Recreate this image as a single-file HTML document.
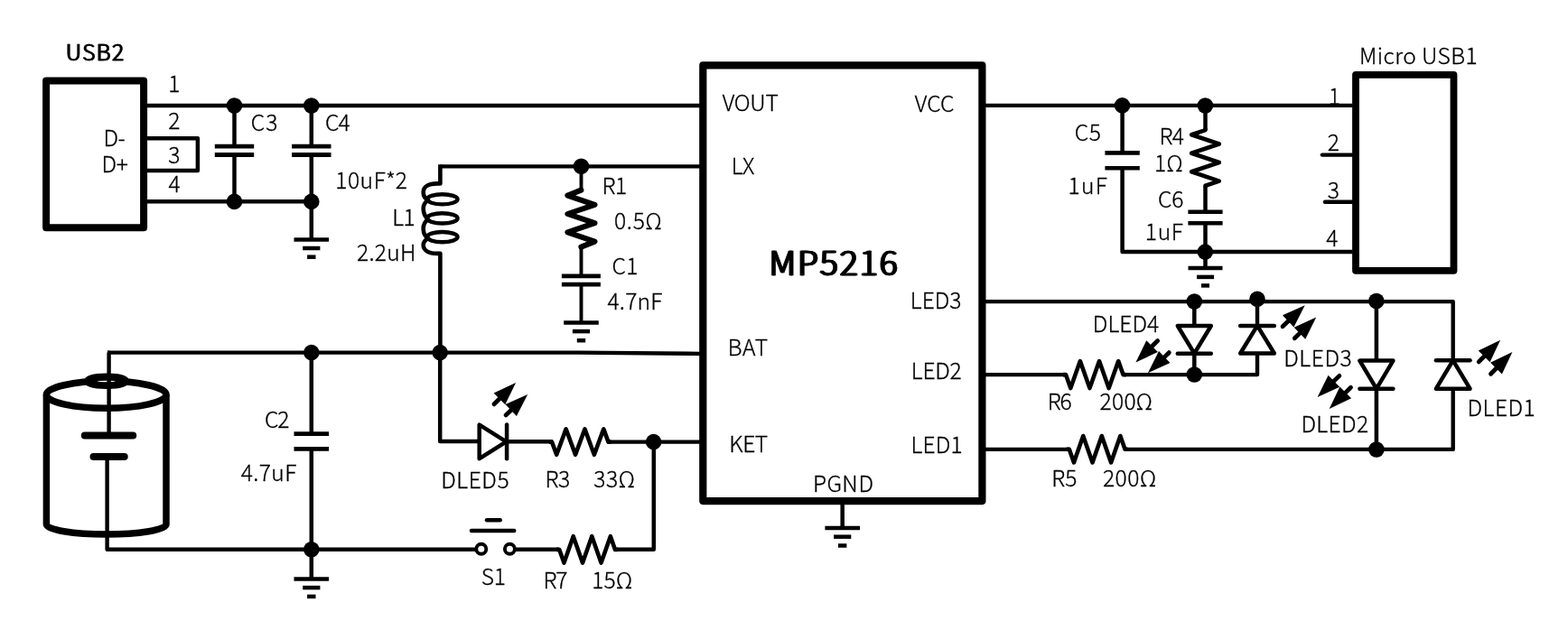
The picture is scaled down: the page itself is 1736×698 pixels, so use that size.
<!DOCTYPE html>
<html lang="en">
<head>
<meta charset="utf-8">
<title>MP5216 typical application circuit</title>
<style>
html,body{margin:0;padding:0;background:#fff;}
body{width:1736px;height:698px;overflow:hidden;}
svg{display:block;will-change:transform;}
svg text{font-family:"Noto Sans CJK SC","Noto Sans CJK JP","Liberation Sans",sans-serif;fill:#000;}
</style>
</head>
<body>
<svg width="1736" height="698" viewBox="0 0 1736 698" stroke="#000" fill="none">
<defs>
<filter id="fb1" x="-5%" y="-20%" width="110%" height="140%"><feOffset in="SourceGraphic" dx="1" dy="0" result="a"/><feMerge><feMergeNode in="SourceGraphic"/><feMergeNode in="a"/></feMerge></filter>
<filter id="fb2" x="-5%" y="-20%" width="110%" height="140%"><feOffset in="SourceGraphic" dx="1" dy="0" result="a"/><feOffset in="SourceGraphic" dx="-1" dy="0" result="b"/><feMerge><feMergeNode in="a"/><feMergeNode in="SourceGraphic"/><feMergeNode in="b"/></feMerge></filter>
</defs>
<rect x="0" y="0" width="1736" height="698" fill="#fff" stroke="none"/>
<g id="usb2">
<rect x="51.1" y="89.6" width="108" height="162.6" stroke-width="8" stroke-linejoin="round" fill="none"/>
<line x1="163" y1="117" x2="775" y2="117" stroke-width="4.3"/>
<path d="M163 153.3 L218.9 153.3 L218.9 188.9 L163 188.9" stroke-width="4.5" stroke-linejoin="round" stroke-linecap="butt" fill="none"/>
<line x1="163" y1="223.3" x2="344.8" y2="223.3" stroke-width="4.5"/>
</g>
<g id="input-caps">
<line x1="259.5" y1="117" x2="259.5" y2="162.2" stroke-width="4.5"/>
<line x1="259.5" y1="171.5" x2="259.5" y2="223.3" stroke-width="4.5"/>
<line x1="237.8" y1="162.2" x2="281.2" y2="162.2" stroke-width="4.8"/>
<line x1="237.8" y1="171.5" x2="281.2" y2="171.5" stroke-width="4.8"/>
<circle cx="259.5" cy="117" r="8.8" fill="#000" stroke="none"/>
<circle cx="259.5" cy="223.4" r="8.8" fill="#000" stroke="none"/>
<line x1="344.8" y1="117" x2="344.8" y2="162.2" stroke-width="4.5"/>
<line x1="344.8" y1="171.5" x2="344.8" y2="223.3" stroke-width="4.5"/>
<line x1="323.1" y1="162.2" x2="366.5" y2="162.2" stroke-width="4.8"/>
<line x1="323.1" y1="171.5" x2="366.5" y2="171.5" stroke-width="4.8"/>
<circle cx="344.8" cy="117" r="8.8" fill="#000" stroke="none"/>
<circle cx="344.8" cy="223.4" r="8.8" fill="#000" stroke="none"/>
<line x1="344.8" y1="223.3" x2="344.8" y2="265.4" stroke-width="4.5"/>
<line x1="325.5" y1="265.4" x2="364.1" y2="265.4" stroke-width="4.5"/>
<line x1="335.2" y1="275" x2="354.4" y2="275" stroke-width="4.5"/>
<line x1="340.1" y1="284.7" x2="349.5" y2="284.7" stroke-width="4.5"/>
</g>
<g id="inductor">
<line x1="487.4" y1="184.3" x2="775" y2="184.3" stroke-width="4.3"/>
<path d="M487.4 182.15 L487.4 203.4 L484 203.4 C474 203.4 468.7 207 468.7 213 C468.7 217 470.5 220 474 221.5 C470.5 224 468.7 227 468.7 231 C468.7 236 470.5 240 474 243 C470.5 245.5 468.7 249 468.7 253 C468.7 258 470.5 262 474 264 C470.5 266 468.7 268.5 468.7 271.5 C468.7 277 474 280.9 484 280.9 L487.4 280.9 L487.4 390.6" stroke-width="4.6" stroke-linejoin="round" fill="none"/>
<ellipse cx="489.7" cy="220.8" rx="16.9" ry="5.6" stroke-width="4.4" fill="none"/>
<ellipse cx="489.7" cy="241.9" rx="16.9" ry="5.6" stroke-width="4.4" fill="none"/>
<ellipse cx="489.7" cy="262.6" rx="16.9" ry="5.6" stroke-width="4.4" fill="none"/>
</g>
<g id="snubber">
<line x1="643.5" y1="184.3" x2="643.5" y2="211" stroke-width="3.9"/>
<path d="M643.4 210.6 L628.4 216.6 L658.5 226.8 L628.4 237 L658.5 247.2 L628.4 257.4 L658.5 267.6 L643.4 273.6" stroke-width="6" stroke-linejoin="round" stroke-linecap="round" fill="none"/>
<line x1="643.5" y1="273" x2="643.5" y2="305.9" stroke-width="3.9"/>
<line x1="643.5" y1="315.2" x2="643.5" y2="357.4" stroke-width="3.9"/>
<line x1="621.9" y1="305.9" x2="664.9" y2="305.9" stroke-width="4.8"/>
<line x1="621.9" y1="315.2" x2="664.9" y2="315.2" stroke-width="4.8"/>
<line x1="624.2" y1="357.4" x2="662.8" y2="357.4" stroke-width="4.5"/>
<line x1="633.9" y1="367.1" x2="653.1" y2="367.1" stroke-width="4.5"/>
<line x1="638.8" y1="377.2" x2="648.2" y2="377.2" stroke-width="4.5"/>
<circle cx="643.5" cy="184.2" r="8.8" fill="#000" stroke="none"/>
</g>
<g id="ic">
<rect x="778.3" y="72.4" width="309.1" height="482.7" stroke-width="8.2" stroke-linejoin="round" fill="none"/>
<line x1="932.7" y1="558" x2="932.7" y2="584.9" stroke-width="4.5"/>
<line x1="913.4" y1="584.9" x2="952" y2="584.9" stroke-width="4.5"/>
<line x1="923.1" y1="594.7" x2="942.3" y2="594.7" stroke-width="4.5"/>
<line x1="928" y1="604.5" x2="937.4" y2="604.5" stroke-width="4.5"/>
</g>
<g id="battery">
<path d="M119.5 390.6 L640 390.6 L775 391.9" stroke-width="4.4" stroke-linejoin="round" stroke-linecap="butt" fill="none"/>
<path d="M51.4 437.6 L51.4 581 A66.3 11 0 0 0 184 581 L184 437.6" stroke-width="7.5" fill="none" stroke-linejoin="round"/>
<ellipse cx="117.7" cy="437.3" rx="66.3" ry="15" stroke-width="7.6" fill="none"/>
<ellipse cx="118.05" cy="422.2" rx="21" ry="4.75" stroke-width="7.9" fill="none"/>
<ellipse cx="117.8" cy="422.45" rx="10" ry="0.75" fill="#fff" stroke="none"/>
<path d="M119 390.6 L120.6 390.6 L120.6 482.4" stroke-width="4.4" stroke-linejoin="round" stroke-linecap="butt" fill="none"/>
<path d="M118.6 506 L118.6 608.8 L526 608.8" stroke-width="4.4" stroke-linejoin="round" stroke-linecap="butt" fill="none"/>
<line x1="93.8" y1="482.4" x2="147.2" y2="482.4" stroke-width="8" stroke-linecap="round"/>
<line x1="103.5" y1="506" x2="137.7" y2="506" stroke-width="8" stroke-linecap="round"/>
</g>
<g id="c2">
<line x1="344.8" y1="390.6" x2="344.8" y2="480.6" stroke-width="4.5"/>
<line x1="344.8" y1="497.4" x2="344.8" y2="641.4" stroke-width="4.5"/>
<line x1="325.5" y1="480.6" x2="364.1" y2="480.6" stroke-width="4.6"/>
<line x1="325.5" y1="497.4" x2="364.1" y2="497.4" stroke-width="4.6"/>
<circle cx="344.8" cy="390.6" r="8.8" fill="#000" stroke="none"/>
<circle cx="344.8" cy="608.8" r="8.8" fill="#000" stroke="none"/>
<line x1="325.5" y1="641.4" x2="364.1" y2="641.4" stroke-width="4.5"/>
<line x1="335.2" y1="651.1" x2="354.4" y2="651.1" stroke-width="4.5"/>
<line x1="340.1" y1="660.9" x2="349.5" y2="660.9" stroke-width="4.5"/>
<circle cx="487.2" cy="390.6" r="8.8" fill="#000" stroke="none"/>
</g>
<g id="dled5">
<path d="M487.2 390.6 L487.2 489.1 L531 489.1" stroke-width="4.5" stroke-linejoin="round" stroke-linecap="butt" fill="none"/>
<path d="M530.7 470.6 L530.7 508.2 L560.5 489.4 Z" fill="#fff" stroke-width="4.5" stroke-linejoin="round"/>
<line x1="561.1" y1="470.6" x2="561.1" y2="508.2" stroke-width="4.5" stroke-linecap="round"/>
<line x1="561" y1="489.3" x2="612" y2="489.3" stroke-width="4.5"/>
<line x1="547.01" y1="447.81" x2="555.1" y2="439.82" stroke-width="4.8" stroke-linecap="round"/>
<path d="M571.1 424 L559.29 448.33 L546.64 435.52 Z" fill="#000" stroke="none"/>
<line x1="560.04" y1="459.95" x2="567.89" y2="452.5" stroke-width="4.8" stroke-linecap="round"/>
<path d="M584.2 437 L571.91 461.09 L559.51 448.04 Z" fill="#000" stroke="none"/>
<path d="M608 489.6 L611 489.6 L616.21 503.8 L626.62 475.4 L637.04 503.8 L647.46 475.4 L657.87 503.8 L668.29 475.4 L673.5 489.6 L676.5 489.6" stroke-width="4.6" stroke-linejoin="round" stroke-linecap="butt" fill="none"/>
<line x1="675" y1="489.7" x2="775" y2="489.7" stroke-width="4.3"/>
<circle cx="723.6" cy="489.6" r="8.8" fill="#000" stroke="none"/>
</g>
<g id="switch">
<line x1="539" y1="576.2" x2="553.7" y2="576.2" stroke-width="4.5" stroke-linecap="round"/>
<line x1="522" y1="588" x2="569.2" y2="588" stroke-width="4.5" stroke-linecap="round"/>
<circle cx="532.8" cy="608.2" r="5.5" stroke-width="3.9" fill="#fff"/>
<circle cx="564.4" cy="608.2" r="5.5" stroke-width="3.9" fill="#fff"/>
<line x1="570.5" y1="608.8" x2="618" y2="608.8" stroke-width="4.5"/>
<path d="M616.3 608.9 L619.3 608.9 L624.44 623.6 L634.72 594.2 L645.01 623.6 L655.29 594.2 L665.57 623.6 L675.86 594.2 L681 608.9 L684 608.9" stroke-width="4.6" stroke-linejoin="round" stroke-linecap="butt" fill="none"/>
<path d="M683 608.8 L723.8 608.8 L723.8 489.6" stroke-width="4.5" stroke-linejoin="round" stroke-linecap="butt" fill="none"/>
</g>
<g id="micro-usb">
<line x1="1091" y1="116.9" x2="1497.5" y2="116.9" stroke-width="4.3"/>
<rect x="1501" y="82.8" width="108.5" height="217" stroke-width="7.8" stroke-linejoin="round" fill="none"/>
<line x1="1242.6" y1="116.6" x2="1242.6" y2="169.4" stroke-width="4.5"/>
<path d="M1242.6 186.2 L1242.6 279.1 L1497.5 279.1" stroke-width="4.5" stroke-linejoin="round" stroke-linecap="butt" fill="none"/>
<line x1="1223.4" y1="169.4" x2="1261.8" y2="169.4" stroke-width="4.6"/>
<line x1="1223.4" y1="186.2" x2="1261.8" y2="186.2" stroke-width="4.6"/>
<line x1="1334.5" y1="116.5" x2="1334.5" y2="144.3" stroke-width="4.5"/>
<path d="M1334.5 142.1 L1334.5 144.1 L1319.2 149.23 L1349.8 159.5 L1319.2 169.77 L1349.8 180.03 L1319.2 190.3 L1349.8 200.57 L1334.5 205.7 L1334.5 207.7" stroke-width="4.6" stroke-linejoin="round" stroke-linecap="butt" fill="none"/>
<line x1="1334.5" y1="207" x2="1334.5" y2="234.7" stroke-width="4.5"/>
<line x1="1334.5" y1="247.3" x2="1334.5" y2="297.1" stroke-width="4.5"/>
<line x1="1315.4" y1="234.7" x2="1353.6" y2="234.7" stroke-width="4.6"/>
<line x1="1315.4" y1="247.3" x2="1353.6" y2="247.3" stroke-width="4.6"/>
<line x1="1315.5" y1="297.1" x2="1353.5" y2="297.1" stroke-width="4.5"/>
<line x1="1325" y1="306.9" x2="1344" y2="306.9" stroke-width="4.5"/>
<line x1="1330" y1="316.4" x2="1339" y2="316.4" stroke-width="4.5"/>
<circle cx="1242.5" cy="116.9" r="8.8" fill="#000" stroke="none"/>
<circle cx="1334.4" cy="117" r="8.8" fill="#000" stroke="none"/>
<circle cx="1334.3" cy="279.1" r="8.8" fill="#000" stroke="none"/>
<line x1="1463.9" y1="171.6" x2="1497.5" y2="171.6" stroke-width="4.4" stroke-linecap="round"/>
<line x1="1467" y1="223.7" x2="1497.5" y2="223.7" stroke-width="4.4" stroke-linecap="round"/>
</g>
<g id="leds">
<path d="M1091 334.1 L1608.7 334.1 L1608.7 497.9 L1247 497.9" stroke-width="4.4" stroke-linejoin="round" stroke-linecap="butt" fill="none"/>
<line x1="1091" y1="415.1" x2="1181" y2="415.1" stroke-width="4.3"/>
<path d="M1177 415.1 L1180 415.1 L1185.29 430.1 L1195.88 400.1 L1206.46 430.1 L1217.04 400.1 L1227.62 430.1 L1238.21 400.1 L1243.5 415.1 L1246.5 415.1" stroke-width="4.6" stroke-linejoin="round" stroke-linecap="butt" fill="none"/>
<path d="M1245 415.1 L1392 415.1 L1392 331" stroke-width="4.4" stroke-linejoin="round" stroke-linecap="butt" fill="none"/>
<line x1="1091" y1="497.9" x2="1185" y2="497.9" stroke-width="4.3"/>
<path d="M1180.8 497.7 L1183.8 497.7 L1188.94 512.4 L1199.22 483 L1209.51 512.4 L1219.79 483 L1230.07 512.4 L1240.36 483 L1245.5 497.7 L1248.5 497.7" stroke-width="4.6" stroke-linejoin="round" stroke-linecap="butt" fill="none"/>
<line x1="1322.3" y1="334" x2="1322.3" y2="415" stroke-width="4.5"/>
<line x1="1523.9" y1="333.3" x2="1523.9" y2="497.9" stroke-width="4.5"/>
<path d="M1303.8 361 L1340.8 361 L1322.3 391.7 Z" fill="#fff" stroke-width="4.5" stroke-linejoin="round"/>
<line x1="1303.8" y1="391.7" x2="1340.8" y2="391.7" stroke-width="4.5" stroke-linecap="round"/>
<path d="M1373.2 391.5 L1410.8 391.5 L1392 360.9 Z" fill="#fff" stroke-width="4.5" stroke-linejoin="round"/>
<line x1="1373.2" y1="360.9" x2="1410.8" y2="360.9" stroke-width="4.5" stroke-linecap="round"/>
<path d="M1505.4 399.6 L1542.4 399.6 L1523.9 430.7 Z" fill="#fff" stroke-width="4.5" stroke-linejoin="round"/>
<line x1="1505.4" y1="430.7" x2="1542.4" y2="430.7" stroke-width="4.5" stroke-linecap="round"/>
<path d="M1589.9 430.7 L1627.5 430.7 L1608.7 399.3 Z" fill="#fff" stroke-width="4.5" stroke-linejoin="round"/>
<line x1="1589.9" y1="399.3" x2="1627.5" y2="399.3" stroke-width="4.5" stroke-linecap="round"/>
<circle cx="1322.3" cy="334" r="8.8" fill="#000" stroke="none"/>
<circle cx="1392" cy="331.4" r="8.8" fill="#000" stroke="none"/>
<circle cx="1523.8" cy="333.5" r="8.8" fill="#000" stroke="none"/>
<circle cx="1322.3" cy="415" r="8.8" fill="#000" stroke="none"/>
<circle cx="1523.9" cy="498" r="8.8" fill="#000" stroke="none"/>
<line x1="1281.69" y1="377.58" x2="1273.43" y2="385.71" stroke-width="4.8" stroke-linecap="round"/>
<path d="M1257.4 401.5 L1269.26 377.2 L1281.88 390.02 Z" fill="#000" stroke="none"/>
<line x1="1294.28" y1="390.67" x2="1287.07" y2="397.65" stroke-width="4.8" stroke-linecap="round"/>
<path d="M1270.9 413.3 L1282.96 389.1 L1295.48 402.03 Z" fill="#000" stroke="none"/>
<line x1="1420.04" y1="361.75" x2="1428.39" y2="353.8" stroke-width="4.8" stroke-linecap="round"/>
<path d="M1444.7 338.3 L1432.42 362.39 L1420.02 349.35 Z" fill="#000" stroke="none"/>
<line x1="1433.32" y1="374.72" x2="1441.1" y2="367.12" stroke-width="4.8" stroke-linecap="round"/>
<path d="M1457.2 351.4 L1445.24 375.66 L1432.67 362.78 Z" fill="#000" stroke="none"/>
<line x1="1482.88" y1="416.37" x2="1474.73" y2="424.31" stroke-width="4.8" stroke-linecap="round"/>
<path d="M1458.6 440 L1470.6 415.77 L1483.15 428.67 Z" fill="#000" stroke="none"/>
<line x1="1495.5" y1="429.2" x2="1487.61" y2="437.09" stroke-width="4.8" stroke-linecap="round"/>
<path d="M1471.7 453 L1483.37 428.6 L1496.1 441.33 Z" fill="#000" stroke="none"/>
<line x1="1637.19" y1="400.89" x2="1645.28" y2="392.7" stroke-width="4.8" stroke-linecap="round"/>
<path d="M1661.1 376.7 L1649.58 401.16 L1636.77 388.51 Z" fill="#000" stroke="none"/>
<line x1="1650.49" y1="414.19" x2="1658.58" y2="406" stroke-width="4.8" stroke-linecap="round"/>
<path d="M1674.4 390 L1662.88 414.46 L1650.07 401.81 Z" fill="#000" stroke="none"/>
</g>
<g id="labels">
<text x="72.34" y="67.1" font-size="24.6" font-weight="300" letter-spacing="1.32" stroke-width="0.5" filter="url(#fb1)">USB2</text>
<text x="186.13" y="102.3" font-size="24.6" font-weight="300" stroke-width="0.3">1</text>
<text x="186.18" y="142.9" font-size="24.6" font-weight="300" stroke-width="0.3">2</text>
<text x="186.18" y="180.9" font-size="24.6" font-weight="300" stroke-width="0.3">3</text>
<text x="186.57" y="212.7" font-size="24.6" font-weight="300" stroke-width="0.3">4</text>
<text x="114.44" y="161.8" font-size="24.6" font-weight="300" letter-spacing="-0.53" stroke-width="0.3">D-</text>
<text x="112.44" y="191.4" font-size="24.6" font-weight="300" letter-spacing="-0.22" stroke-width="0.3">D+</text>
<text x="277.75" y="144.6" font-size="24.6" font-weight="300" letter-spacing="1.01" stroke-width="0.3">C3</text>
<text x="360" y="144.6" font-size="24.6" font-weight="300" letter-spacing="-1.01" stroke-width="0.3">C4</text>
<text x="371.33" y="209" dx="0 0 0 0.4 -0.34 -0.34" font-size="24.6" font-weight="300" letter-spacing="0.4" stroke-width="0.3">10uF*2</text>
<text x="434.34" y="249.9" font-size="24.6" font-weight="300" letter-spacing="-0.57" stroke-width="0.3">L1</text>
<text x="394.98" y="289.2" font-size="24.6" font-weight="300" letter-spacing="0.3" stroke-width="0.3">2.2uH</text>
<text x="666.54" y="214.6" font-size="24.6" font-weight="300" letter-spacing="-0.48" stroke-width="0.3">R1</text>
<text x="680" y="253.6" font-size="24.6" font-weight="300" letter-spacing="0.69" stroke-width="0.3">0.5Ω</text>
<text x="677.4" y="304" font-size="24.6" font-weight="300" letter-spacing="0.5" stroke-width="0.3">C1</text>
<text x="672.57" y="342.8" font-size="24.6" font-weight="300" letter-spacing="0.14" stroke-width="0.3">4.7nF</text>
<text x="799.65" y="123" font-size="24.6" font-weight="300" letter-spacing="-0.23" stroke-width="0.3">VOUT</text>
<text x="1012.85" y="123.8" font-size="24.6" font-weight="300" letter-spacing="0.09" stroke-width="0.3">VCC</text>
<text x="809.64" y="192.6" font-size="24.6" font-weight="300" letter-spacing="-0.5" stroke-width="0.3">LX</text>
<text x="851.53" y="305" font-size="37.6" font-weight="300" letter-spacing="1.87" stroke-width="0.7" filter="url(#fb2)">MP5216</text>
<text x="1007.84" y="341.6" font-size="24.6" font-weight="300" letter-spacing="0.01" stroke-width="0.3">LED3</text>
<text x="805.84" y="393.5" font-size="24.6" font-weight="300" letter-spacing="0.48" stroke-width="0.3">BAT</text>
<text x="1008.74" y="420.3" font-size="24.6" font-weight="300" letter-spacing="-0.19" stroke-width="0.3">LED2</text>
<text x="807.24" y="501" font-size="24.6" font-weight="300" letter-spacing="-0.43" stroke-width="0.3">KET</text>
<text x="1008.54" y="501.9" font-size="24.6" font-weight="300" letter-spacing="0.17" stroke-width="0.3">LED1</text>
<text x="899.94" y="544.6" dx="0 0 0 0.39" font-size="24.6" font-weight="300" letter-spacing="0.4" stroke-width="0.3">PGND</text>
<text x="292.9" y="473.6" font-size="24.6" font-weight="300" letter-spacing="-1.07" stroke-width="0.3">C2</text>
<text x="266.77" y="532.5" font-size="24.6" font-weight="300" letter-spacing="0.36" stroke-width="0.3">4.7uF</text>
<text x="488.14" y="540.5" font-size="24.6" font-weight="300" letter-spacing="0.57" stroke-width="0.3">DLED5</text>
<text x="603.44" y="539.9" font-size="24.6" font-weight="300" letter-spacing="-0.47" stroke-width="0.3">R3</text>
<text x="657.18" y="539.9" font-size="24.6" font-weight="300" letter-spacing="0.57" stroke-width="0.3">33Ω</text>
<text x="532.7" y="648.4" font-size="24.6" font-weight="300" letter-spacing="-0.15" stroke-width="0.3">S1</text>
<text x="601.44" y="651.6" font-size="24.6" font-weight="300" letter-spacing="-1.15" stroke-width="0.3">R7</text>
<text x="655.23" y="651.6" font-size="24.6" font-weight="300" letter-spacing="0.24" stroke-width="0.3">15Ω</text>
<text x="1504.94" y="70.9" font-size="24.6" font-weight="300" letter-spacing="0.43" stroke-width="0.3">Micro USB1</text>
<text x="1470.63" y="116" font-size="24.6" font-weight="300" stroke-width="0.3">1</text>
<text x="1469.78" y="167" font-size="24.6" font-weight="300" stroke-width="0.3">2</text>
<text x="1469.78" y="220" font-size="24.6" font-weight="300" stroke-width="0.3">3</text>
<text x="1468.17" y="272.8" font-size="24.6" font-weight="300" stroke-width="0.3">4</text>
<text x="1189.8" y="156" font-size="24.6" font-weight="300" letter-spacing="0.61" stroke-width="0.3">C5</text>
<text x="1182.53" y="215.1" font-size="24.6" font-weight="300" letter-spacing="1.34" stroke-width="0.3">1uF</text>
<text x="1283.44" y="159.9" font-size="24.6" font-weight="300" letter-spacing="-0.53" stroke-width="0.3">R4</text>
<text x="1277.93" y="189.7" font-size="24.6" font-weight="300" letter-spacing="0.35" stroke-width="0.3">1Ω</text>
<text x="1281.9" y="229.7" font-size="24.6" font-weight="300" letter-spacing="-0.07" stroke-width="0.3">C6</text>
<text x="1267.83" y="266" font-size="24.6" font-weight="300" letter-spacing="0.69" stroke-width="0.3">1uF</text>
<text x="1209.84" y="368.4" font-size="24.6" font-weight="300" letter-spacing="0.06" stroke-width="0.3">DLED4</text>
<text x="1421.14" y="406.4" font-size="24.6" font-weight="300" letter-spacing="0.6" stroke-width="0.3">DLED3</text>
<text x="1440.44" y="478.5" font-size="24.6" font-weight="300" letter-spacing="0.38" stroke-width="0.3">DLED2</text>
<text x="1624.54" y="460.7" font-size="24.6" font-weight="300" letter-spacing="0.49" stroke-width="0.3">DLED1</text>
<text x="1159.64" y="453.6" font-size="24.6" font-weight="300" letter-spacing="-1.15" stroke-width="0.3">R6</text>
<text x="1217.58" y="453.6" font-size="24.6" font-weight="300" letter-spacing="0.26" stroke-width="0.3">200Ω</text>
<text x="1164.24" y="538.5" font-size="24.6" font-weight="300" letter-spacing="0.13" stroke-width="0.3">R5</text>
<text x="1220.88" y="538.5" font-size="24.6" font-weight="300" letter-spacing="0.59" stroke-width="0.3">200Ω</text>
</g>
</svg>
</body>
</html>
